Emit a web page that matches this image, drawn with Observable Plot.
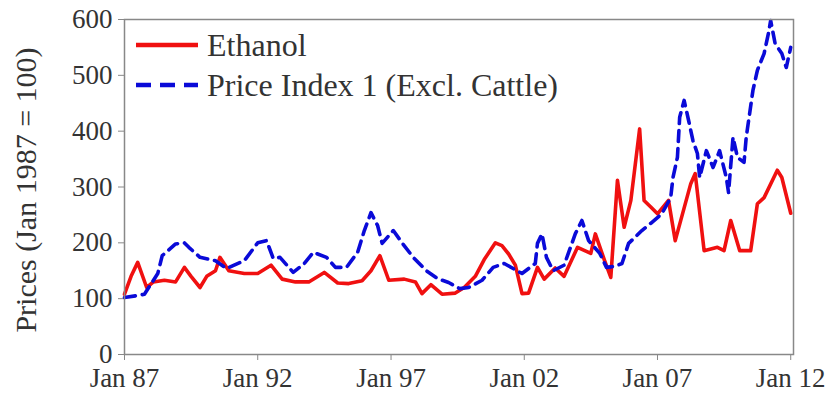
<!DOCTYPE html>
<html>
<head>
<meta charset="utf-8">
<script src="https://cdn.jsdelivr.net/npm/d3@7"></script>
<script src="https://cdn.jsdelivr.net/npm/@observablehq/plot@0.6"></script>
<style>
  html, body { margin: 0; padding: 0; background: #fff; }
  #wrap { position: relative; width: 826px; height: 403px; font-family: "Liberation Serif", "Times New Roman", Times, "DejaVu Serif", serif; }
  #wrap svg text { font-family: "Liberation Serif", "Times New Roman", Times, "DejaVu Serif", serif !important; }
  #legend { position: absolute; left: 0; top: 0; pointer-events: none; }
</style>
</head>
<body>
<div id="wrap"></div>
<script>
// ---- Data ----
const ethanolDates = ["1987-01","1987-04","1987-07","1987-11","1988-02","1988-07","1988-12","1989-04","1989-07","1989-11","1990-02","1990-06","1990-08","1990-12","1991-07","1992-01","1992-07","1992-12","1993-06","1993-12","1994-07","1995-01","1995-06","1995-12","1996-04","1996-08","1996-12","1997-07","1997-12","1998-03","1998-07","1998-12","1999-06","1999-10","2000-03","2000-07","2000-12","2001-03","2001-06","2001-09","2001-12","2002-03","2002-07","2002-10","2003-03","2003-07","2004-01","2004-07","2004-09","2005-01","2005-04","2005-07","2005-10","2006-01","2006-05","2006-07","2006-10","2007-01","2007-06","2007-09","2008-04","2008-06","2008-10","2009-04","2009-07","2009-10","2010-02","2010-07","2010-10","2011-01","2011-07","2011-09","2012-01"];
const ethanolValues = [108,140,165,120,130,133,130,156,140,120,140,150,174,150,145,145,160,135,130,130,147,128,127,132,150,177,133,135,130,109,125,108,110,120,140,170,200,195,180,160,109,110,156,135,155,140,192,181,216,170,138,312,228,276,404,276,264,252,276,204,306,324,186,192,186,240,186,186,270,281,330,317,253];

const indexDates = ["1987-01","1987-06","1987-10","1988-04","1988-06","1988-12","1989-04","1989-06","1989-11","1990-06","1990-11","1991-07","1992-01","1992-05","1992-08","1992-11","1993-05","1993-10","1994-02","1994-08","1994-12","1995-05","1995-10","1996-01","1996-04","1996-07","1996-09","1997-02","1997-06","1997-11","1998-05","1998-10","1999-03","1999-08","1999-12","2000-06","2000-11","2001-04","2001-12","2002-06","2002-07","2002-09","2002-11","2003-02","2003-07","2003-12","2004-03","2004-06","2004-11","2005-02","2005-06","2005-09","2005-12","2006-06","2006-10","2007-03","2007-07","2007-08","2007-10","2007-11","2008-01","2008-03","2008-05","2008-07","2008-08","2008-11","2009-02","2009-05","2009-08","2009-09","2009-11","2010-01","2010-04","2010-05","2010-08","2010-10","2011-01","2011-03","2011-04","2011-06","2011-09","2011-11","2012-01"];
const indexValues = [102,105,108,145,177,198,200,192,174,168,154,168,200,204,172,174,147,163,183,174,156,156,183,222,254,231,199,222,200,174,150,136,129,118,120,133,156,163,145,163,199,216,174,150,160,216,240,204,181,156,158,163,199,222,235,252,281,317,353,425,455,420,383,360,317,365,335,365,317,290,389,353,344,389,473,509,539,575,598,557,539,514,550];

const tickYears = [1987, 1992, 1997, 2002, 2007, 2012];
const yTicks = [0, 100, 200, 300, 400, 500, 600];
const seriesNames = ["Ethanol", "Price Index 1 (Excl. Cattle)"];
const yLabel = "Prices (Jan 1987 = 100)";

// ---- Build tables ----
const parse = d3.utcParse("%Y-%m");
const ethanol = ethanolDates.map((d, i) => ({date: parse(d), value: ethanolValues[i]}));
const index1 = indexDates.map((d, i) => ({date: parse(d), value: indexValues[i]}));
const xTicks = tickYears.map(y => new Date(Date.UTC(y, 0, 1)));

const RED = "#f01010";
const BLUE = "#0a0ad8";
const FONT = "Liberation Serif, Times New Roman, Times, DejaVu Serif, serif";

const chart = Plot.plot({
  width: 826,
  height: 403,
  marginLeft: 124,
  marginRight: 33,
  marginTop: 19,
  marginBottom: 49,
  style: {fontFamily: FONT, background: "#fff", color: "#333", overflow: "visible"},
  x: {type: "utc", domain: [new Date(Date.UTC(1987, 0, 1)), new Date(Date.UTC(2012, 1, 8))]},
  y: {domain: [0, 600]},
  marks: [
    Plot.axisY({ticks: yTicks, tickSize: 6, tickPadding: 6, fontSize: 27, stroke: "#888", label: null, fill: "#333"}),
    Plot.axisX({ticks: xTicks, tickFormat: d3.utcFormat("Jan %y"), tickSize: 6, tickPadding: 7, fontSize: 27, stroke: "#888", label: null, fill: "#333"}),
    Plot.text([yLabel], {frameAnchor: "left", textAnchor: "middle", rotate: -90, dx: -98, dy: 3, fontSize: 30, fill: "#333", text: d => d}),
    Plot.lineY(ethanol, {x: "date", y: "value", stroke: RED, strokeWidth: 3.6, strokeLinejoin: "round"}),
    Plot.lineY(index1, {x: "date", y: "value", stroke: BLUE, strokeWidth: 3.6, strokeDasharray: "11,7"}),
    Plot.frame({stroke: "#888", strokeWidth: 1.5})
  ]
});

const wrap = document.getElementById("wrap");
wrap.appendChild(chart);

// ---- Legend (inside the plot, top-left) ----
const ns = "http://www.w3.org/2000/svg";
const leg = document.createElementNS(ns, "svg");
leg.setAttribute("id", "legend");
leg.setAttribute("width", 826);
leg.setAttribute("height", 120);
const rows = [
  {name: seriesNames[0], color: RED, dash: null, y: 45},
  {name: seriesNames[1], color: BLUE, dash: "15,9", y: 85}
];
rows.forEach(r => {
  const ln = document.createElementNS(ns, "line");
  ln.setAttribute("x1", 136); ln.setAttribute("x2", 198);
  ln.setAttribute("y1", r.y); ln.setAttribute("y2", r.y);
  ln.setAttribute("stroke", r.color);
  ln.setAttribute("stroke-width", 4.5);
  if (r.dash) ln.setAttribute("stroke-dasharray", r.dash);
  leg.appendChild(ln);
  const tx = document.createElementNS(ns, "text");
  tx.setAttribute("x", 207);
  tx.setAttribute("y", r.y + 11);
  tx.setAttribute("font-size", 32);
  tx.setAttribute("fill", "#333");
  tx.textContent = r.name;
  leg.appendChild(tx);
});
wrap.appendChild(leg);
</script>
</body>
</html>
